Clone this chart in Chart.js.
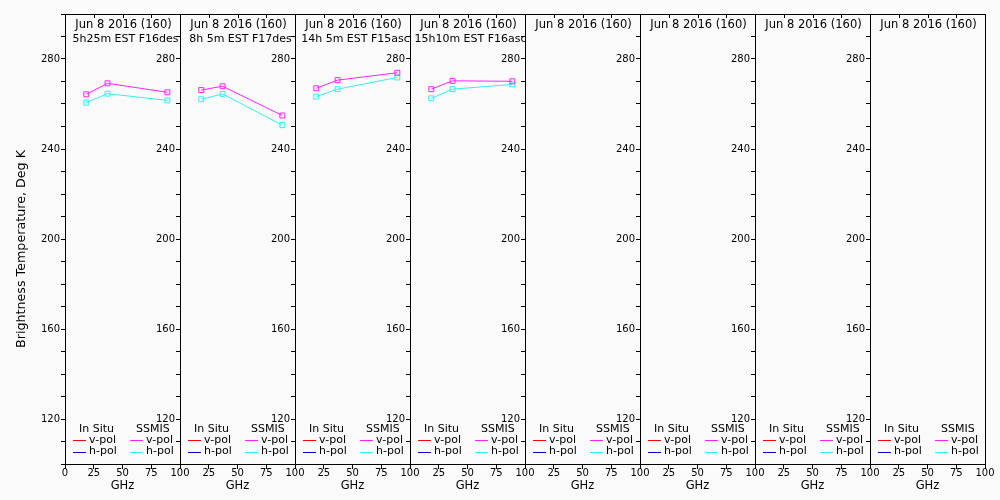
<!DOCTYPE html>
<html>
<head>
<meta charset="utf-8">
<script src="https://cdn.jsdelivr.net/npm/chart.js@4.4.0/dist/chart.umd.min.js"></script>
<style>
  body { margin: 0; background: #fafafa; width: 1000px; height: 500px; position: relative; overflow: hidden; }
  canvas { position: absolute; top: 0; }
</style>
</head>
<body>
<script>
// frequencies of the SSMIS channels (GHz)
const freqs = [18.5, 37, 89];

// panel titles
const titleDate = ["Jun 8 2016 (160)", "Jun 8 2016 (160)", "Jun 8 2016 (160)", "Jun 8 2016 (160)",
                   "Jun 8 2016 (160)", "Jun 8 2016 (160)", "Jun 8 2016 (160)", "Jun 8 2016 (160)"];
const titleTime = ["5h25m EST F16des", "8h 5m EST F17des", "14h 5m EST F15asc", "15h10m EST F16asc", "", "", "", ""];

// brightness temperatures, one row per panel
const ssmisV = [[264.3, 269.2, 265.2], [266.2, 267.9, 254.9], [267.0, 270.6, 273.9], [266.6, 270.3, 270.1], [], [], [], []];
const ssmisH = [[260.6, 264.6, 261.6], [262.1, 264.5, 250.6], [263.3, 266.6, 271.8], [262.5, 266.6, 268.7], [], [], [], []];
const inSituV = [[], [], [], [], [], [], [], []];
const inSituH = [[], [], [], [], [], [], [], []];

const xTicks = [0, 25, 50, 75, 100];
const yLabelled = [120, 160, 200, 240, 280];
const yTitle = "Brightness Temperature, Deg K";

const FONT = "'DejaVu Sans', sans-serif";

function toPoints(xs, ys) {
  return ys.map((y, k) => ({ x: xs[k], y: y }));
}

// box, top ticks, title lines and the two-column legend inside each panel
const panelPlugin = {
  id: "panel",
  afterDraw(chart) {
    const ctx = chart.ctx;
    const a = chart.chartArea;
    const xs = chart.scales.x;
    const idx = chart.options.panelIndex;
    ctx.save();
    ctx.strokeStyle = "#000";
    ctx.lineWidth = 1;
    ctx.strokeRect(Math.round(a.left) + 0.5, Math.round(a.top) + 0.5, Math.round(a.right - a.left), Math.round(a.bottom - a.top));
    // inward ticks on the top edge
    xTicks.forEach(v => {
      const px = Math.round(xs.getPixelForValue(v)) + 0.5;
      ctx.beginPath();
      ctx.moveTo(px, a.top);
      ctx.lineTo(px, a.top + 4);
      ctx.stroke();
    });

    // title
    ctx.save();
    ctx.beginPath();
    ctx.rect(a.left + 1, a.top, a.right - a.left - 1, a.bottom - a.top);
    ctx.clip();
    ctx.fillStyle = "#000";
    ctx.textAlign = "center";
    ctx.textBaseline = "middle";
    const cx = (a.left + a.right) / 2 + 1;
    ctx.font = "11.5px " + FONT;
    ctx.fillText(titleDate[idx], cx, a.top + 11);
    ctx.font = "11px " + FONT;
    if (titleTime[idx]) ctx.fillText(titleTime[idx], cx + 2, a.top + 25);
    ctx.restore();

    // y axis title on the first panel only
    if (idx === 0) {
      ctx.save();
      ctx.fillStyle = "#000";
      ctx.font = "12.7px " + FONT;
      ctx.textAlign = "center";
      ctx.textBaseline = "middle";
      ctx.translate(22, (a.top + a.bottom) / 2 + 10);
      ctx.rotate(-Math.PI / 2);
      ctx.fillText(yTitle, 0, 0);
      ctx.restore();
    }

    // legend
    ctx.font = "11px " + FONT;
    ctx.textBaseline = "middle";
    ctx.textAlign = "left";
    ctx.fillStyle = "#000";
    ctx.lineWidth = 1;
    const groups = ["In Situ", "SSMIS"];
    const colX = [a.left + 8, a.left + 65];
    groups.forEach((g, c) => {
      ctx.fillText(g, colX[c] + 6, a.bottom - 35);
      const sets = chart.data.datasets.filter(d => d.group === g);
      sets.forEach((d, r) => {
        const y = Math.round(a.bottom - 24 + r * 12) + 0.5;
        ctx.strokeStyle = d.borderColor;
        ctx.beginPath();
        ctx.moveTo(colX[c], y);
        ctx.lineTo(colX[c] + 13, y);
        ctx.stroke();
        ctx.fillText(d.label, colX[c] + 16, y - r);
      });
    });
    ctx.restore();
  }
};

const panelW = 115;
const firstLeft = 65;

for (let i = 0; i < 8; i++) {
  const left = firstLeft + i * panelW;
  const canvasLeft = i === 0 ? 0 : left - 50;
  const yWidth = left - canvasLeft;
  const cv = document.createElement("canvas");
  cv.width = yWidth + panelW + 16;
  cv.height = 500;
  cv.style.left = canvasLeft + "px";
  document.body.appendChild(cv);

  new Chart(cv, {
    type: "line",
    data: {
      datasets: [
        { group: "In Situ", label: "v-pol", data: toPoints(freqs, inSituV[i]), borderColor: "#ff0000" },
        { group: "In Situ", label: "h-pol", data: toPoints(freqs, inSituH[i]), borderColor: "#0000cc" },
        { group: "SSMIS", label: "v-pol", data: toPoints(freqs, ssmisV[i]), borderColor: "#ff22ff" },
        { group: "SSMIS", label: "h-pol", data: toPoints(freqs, ssmisH[i]), borderColor: "#33f0f0" }
      ].map(d => Object.assign(d, {
        borderWidth: 1,
        pointStyle: "rect",
        pointRadius: 3.5,
        pointBorderWidth: 1,
        pointBackgroundColor: "rgba(0,0,0,0)",
        pointBorderColor: d.borderColor,
        tension: 0
      }))
    },
    options: {
      panelIndex: i,
      responsive: false,
      animation: false,
      layout: { padding: { top: 14, right: 16, left: 0, bottom: 0 } },
      plugins: { legend: { display: false }, tooltip: { enabled: false } },
      scales: {
        x: {
          type: "linear",
          min: 0,
          max: 100,
          afterBuildTicks: s => { s.ticks = xTicks.map(v => ({ value: v })); },
          afterFit: s => { s.height = 36; },
          ticks: {
            autoSkip: false,
            maxRotation: 0,
            padding: -2,
            color: "#000",
            font: { family: FONT, size: 10 },
            callback: v => (i > 0 && v === 0) ? "" : v
          },
          grid: { drawOnChartArea: false, tickLength: 5, tickColor: "#000" },
          border: { color: "#000" },
          title: { display: true, text: "GHz", color: "#000", font: { family: FONT, size: 11.5 }, padding: { top: 0, bottom: 7 } }
        },
        y: {
          min: 100,
          max: 300,
          afterFit: s => { s.width = yWidth; },
          ticks: {
            stepSize: 10,
            autoSkip: false,
            padding: 1,
            color: "#000",
            font: { family: FONT, size: 10 },
            callback: v => yLabelled.includes(v) ? v : ""
          },
          grid: { drawOnChartArea: false, tickLength: 4, tickColor: "#000" },
          border: { color: "#000" }
        }
      }
    },
    plugins: [panelPlugin]
  });
}
</script>
</body>
</html>
